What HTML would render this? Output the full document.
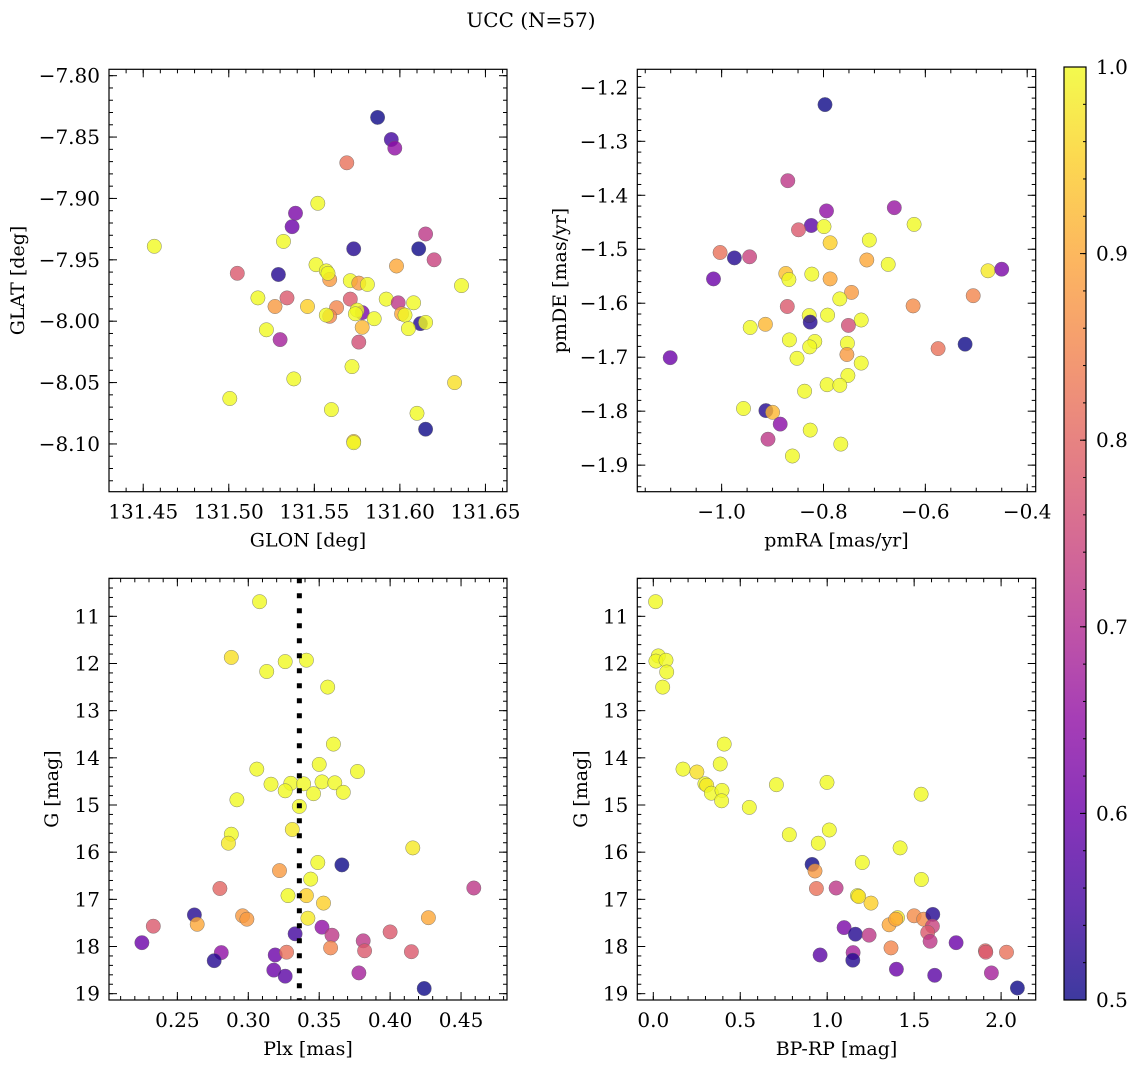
<!DOCTYPE html>
<html><head><meta charset="utf-8"><title>UCC (N=57)</title>
<style>
html,body{margin:0;padding:0;background:#fff;}
svg{display:block;font-family:"DejaVu Serif","Liberation Serif",serif;}
</style></head>
<body>
<svg id="fig" width="1136" height="1067" viewBox="0 0 1136 1067" xmlns="http://www.w3.org/2000/svg">
<text x="531" y="27" font-size="20" text-anchor="middle">UCC (N=57)</text>
</svg>
<script>
// ---- Panel 1: GLON vs GLAT ----
const tlLon=[131.4565,131.587,131.595,131.597,131.569,131.552,131.539,131.537,131.532,131.615,131.573,131.611,131.620,131.598,131.505,131.529,131.551,131.557,131.559,131.558,131.571,131.576,131.581,131.636,131.517,131.534,131.571,131.592,131.599,131.608,131.527,131.546,131.563,131.578,131.575,131.574,131.559,131.557,131.585,131.601,131.603,131.612,131.615,131.605,131.578,131.522,131.530,131.576,131.572,131.538,131.632,131.5006,131.560,131.610,131.615,131.573,131.573];
const tlLat=[-7.939,-7.834,-7.852,-7.859,-7.871,-7.904,-7.912,-7.923,-7.935,-7.929,-7.941,-7.941,-7.950,-7.955,-7.961,-7.962,-7.954,-7.959,-7.966,-7.961,-7.967,-7.969,-7.970,-7.971,-7.981,-7.981,-7.982,-7.982,-7.985,-7.985,-7.988,-7.988,-7.989,-7.993,-7.991,-7.994,-7.996,-7.995,-7.998,-7.994,-7.995,-8.002,-8.001,-8.006,-8.005,-8.007,-8.015,-8.017,-8.037,-8.047,-8.050,-8.063,-8.072,-8.075,-8.088,-8.098,-8.099];
const tlC=[1,0.5,0.55,0.65,0.82,1,0.62,0.6,1,0.72,0.52,0.5,0.74,0.9,0.78,0.52,1,1,0.88,1,1,0.88,1,1,1,0.78,0.78,1,0.72,1,0.88,0.95,0.85,0.62,1,1,0.85,1,1,0.9,1,0.52,1,1,0.92,1,0.68,0.76,1,1,0.97,1,1,1,0.5,0.95,1];
const tlXTicks=[131.45,131.50,131.55,131.60,131.65];
const tlYTicks=[-7.80,-7.85,-7.90,-7.95,-8.00,-8.05,-8.10];

// ---- Panel 2: pmRA vs pmDE ----
const trRA=[-0.797,-0.870,-0.794,-0.661,-0.622,-0.824,-0.849,-0.799,-0.710,-0.787,-1.003,-0.975,-0.945,-1.016,-0.874,-0.868,-0.823,-0.787,-0.715,-0.673,-0.477,-0.450,-0.506,-0.745,-0.768,-0.871,-0.624,-0.828,-0.826,-0.792,-0.726,-0.751,-0.944,-0.914,-0.867,-0.817,-0.827,-0.753,-0.754,-0.575,-0.522,-1.101,-0.852,-0.726,-0.752,-0.837,-0.793,-0.768,-0.957,-0.913,-0.900,-0.885,-0.826,-0.909,-0.766,-0.861];
const trDE=[-1.232,-1.373,-1.429,-1.423,-1.454,-1.456,-1.464,-1.458,-1.483,-1.488,-1.506,-1.516,-1.514,-1.555,-1.545,-1.556,-1.546,-1.555,-1.520,-1.528,-1.540,-1.537,-1.586,-1.580,-1.592,-1.606,-1.605,-1.623,-1.635,-1.622,-1.631,-1.641,-1.645,-1.639,-1.668,-1.671,-1.681,-1.674,-1.695,-1.684,-1.676,-1.701,-1.702,-1.711,-1.734,-1.763,-1.751,-1.752,-1.795,-1.799,-1.802,-1.824,-1.835,-1.852,-1.861,-1.883];
const trC=[0.5,0.72,0.65,0.66,1,0.58,0.78,1,1,0.95,0.82,0.52,0.74,0.6,0.93,1,1,0.9,0.9,1,0.98,0.62,0.85,0.88,1,0.78,0.86,1,0.52,1,1,0.76,1,0.92,1,1,1,1,0.88,0.82,0.5,0.6,1,1,1,1,1,1,1,0.52,0.92,0.64,1,0.72,1,1];
const trXTicks=[-1.0,-0.8,-0.6,-0.4];
const trYTicks=[-1.2,-1.3,-1.4,-1.5,-1.6,-1.7,-1.8,-1.9];

// ---- Panel 3: Plx vs G ----
const blPlx=[0.308,0.288,0.326,0.341,0.313,0.356,0.360,0.350,0.306,0.377,0.316,0.330,0.326,0.339,0.352,0.361,0.346,0.367,0.292,0.336,0.288,0.286,0.331,0.416,0.349,0.366,0.322,0.344,0.280,0.328,0.341,0.353,0.459,0.296,0.299,0.262,0.264,0.233,0.342,0.427,0.333,0.352,0.359,0.400,0.225,0.381,0.382,0.281,0.319,0.327,0.358,0.415,0.276,0.318,0.326,0.378,0.424];
const blG=[10.69,11.87,11.96,11.93,12.17,12.50,13.71,14.14,14.24,14.29,14.56,14.54,14.70,14.55,14.51,14.53,14.76,14.73,14.89,15.03,15.62,15.81,15.52,15.91,16.22,16.27,16.39,16.57,16.77,16.92,16.92,17.08,16.76,17.35,17.42,17.33,17.53,17.57,17.40,17.39,17.73,17.59,17.76,17.69,17.92,17.88,18.09,18.13,18.18,18.12,18.03,18.11,18.30,18.50,18.63,18.56,18.89];
const blC=[1,0.97,1,1,1,1,1,1,1,1,1,1,1,1,1,1,1,1,1,1,1,0.98,0.98,0.98,1,0.5,0.88,1,0.8,1,0.95,0.95,0.72,0.88,0.88,0.52,0.9,0.78,0.98,0.9,0.55,0.65,0.72,0.78,0.6,0.72,0.78,0.65,0.6,0.82,0.85,0.78,0.52,0.6,0.58,0.68,0.5];
const blXTicks=[0.25,0.30,0.35,0.40,0.45];
const blYTicks=[11,12,13,14,15,16,17,18,19];
const plxMarker=[0.336];

// ---- Panel 4: BP-RP vs G ----
const brCol=[0.013,0.029,0.015,0.073,0.077,0.054,0.408,0.385,0.171,0.251,0.297,0.307,0.334,0.395,0.393,0.552,0.708,0.999,1.540,0.782,1.012,0.949,1.419,1.202,0.913,0.930,1.542,0.938,1.051,1.174,1.181,1.252,1.356,1.404,1.394,1.500,1.555,1.607,1.605,1.578,1.592,1.097,1.162,1.241,1.367,1.741,1.910,1.912,2.031,0.959,1.149,1.147,1.398,1.618,1.944,2.094];
const brG=[10.69,11.84,11.95,11.93,12.18,12.50,13.71,14.13,14.24,14.30,14.55,14.58,14.75,14.69,14.91,15.05,14.57,14.52,14.77,15.63,15.53,15.81,15.91,16.22,16.26,16.40,16.58,16.77,16.76,16.92,16.94,17.08,17.54,17.39,17.42,17.35,17.42,17.32,17.57,17.70,17.89,17.60,17.74,17.76,18.03,17.92,18.09,18.12,18.12,18.18,18.13,18.29,18.48,18.61,18.56,18.88];
const brC=[1,1,1,1,1,1,1,1,1,0.97,1,0.98,1,1,1,1,1,1,1,1,1,1,1,1,0.5,0.88,1,0.82,0.72,1,0.97,0.95,0.9,0.98,0.9,0.86,0.86,0.52,0.74,0.78,0.72,0.62,0.52,0.72,0.85,0.6,0.8,0.78,0.82,0.58,0.68,0.52,0.6,0.58,0.68,0.5];
const brXTicks=[0.0,0.5,1.0,1.5,2.0];
const brYTicks=[11,12,13,14,15,16,17,18,19];

// ---- Colorbar ----
const cbTicks=[0.5,0.6,0.7,0.8,0.9,1.0];
const cbRange=[0.5,1.0];

const NS="http://www.w3.org/2000/svg";
const svg=document.getElementById('fig');
function mk(tag,attrs,parent){const e=document.createElementNS(NS,tag);for(const k in attrs)e.setAttribute(k,attrs[k]);(parent||svg).appendChild(e);return e;}

const plasma=[[13,8,135],[65,4,157],[106,0,168],[143,13,164],[177,42,144],[204,71,120],[225,100,98],[242,132,75],[252,166,54],[252,206,37],[240,249,33]];
function cmap(v){let t=(v-cbRange[0])/(cbRange[1]-cbRange[0]);t=Math.max(0,Math.min(1,t));const p=t*10,i=Math.min(9,Math.floor(p)),f=p-i;const a=plasma[i],b=plasma[i+1];return 'rgb('+a.map((x,k)=>Math.round(x+(b[k]-x)*f)).join(',')+')';}
function fmt(v,d){const s=Math.abs(v).toFixed(d);return (v<-1e-9?'−':'')+s;}

function panel(cfg){
  const {name,L,R,T,B,xd,yd,xt,yt,xminor,yminor,xdec,ydec,xs,ys,cs,xlabel,ylabel,ylabX}=cfg;
  const sx=v=>L+(v-xd[0])/(xd[1]-xd[0])*(R-L);
  const sy=v=>T+(v-yd[0])/(yd[1]-yd[0])*(B-T);
  const g=mk('g',{});
  
  
  const clipId=name+'-clip';
  const cp=mk('clipPath',{id:clipId},g);mk('rect',{x:L,y:T,width:R-L,height:B-T},cp);
  const pts=mk('g',{'clip-path':'url(#'+clipId+')'},g);
  
  
  for(let i=0;i<xs.length;i++){
    const c=mk('circle',{cx:sx(xs[i]).toFixed(1),cy:sy(ys[i]).toFixed(1),r:7.2,fill:cmap(cs[i]),'fill-opacity':0.8,stroke:'#666','stroke-width':0.5,'stroke-opacity':0.8},pts);
    
    
  }
  if(cfg.vline){
    const vl=mk('line',{x1:sx(cfg.vline[0]),x2:sx(cfg.vline[0]),y1:T,y2:B,stroke:'#000','stroke-width':5,'stroke-dasharray':'5 10'},g);
    
    
  }
  const tk=mk('g',{stroke:'#000','stroke-width':1},g);
  const lo=Math.min(xd[0],xd[1]),hi=Math.max(xd[0],xd[1]);
  for(let v=Math.ceil(lo/xminor-1e-6)*xminor;v<=hi+1e-9;v+=xminor){const x=sx(v);mk('line',{x1:x,x2:x,y1:B,y2:B-4},tk);mk('line',{x1:x,x2:x,y1:T,y2:T+4},tk);}
  const ylo=Math.min(yd[0],yd[1]),yhi=Math.max(yd[0],yd[1]);
  for(let v=Math.ceil(ylo/yminor-1e-6)*yminor;v<=yhi+1e-9;v+=yminor){const y=sy(v);mk('line',{x1:L,x2:L+4,y1:y,y2:y},tk);mk('line',{x1:R,x2:R-4,y1:y,y2:y},tk);}
  xt.forEach(v=>{const x=sx(v);mk('line',{x1:x,x2:x,y1:B,y2:B-8},tk);mk('line',{x1:x,x2:x,y1:T,y2:T+8},tk);
    const t=mk('text',{x:x,y:B+27,'font-size':20,'text-anchor':'middle'},g);t.textContent=fmt(v,xdec);
    
    });
  yt.forEach(v=>{const y=sy(v);mk('line',{x1:L,x2:L+8,y1:y,y2:y},tk);mk('line',{x1:R,x2:R-8,y1:y,y2:y},tk);
    const t=mk('text',{x:L-9,y:y+7,'font-size':20,'text-anchor':'end'},g);t.textContent=fmt(v,ydec);
    
    });
  const fr=mk('rect',{x:L,y:T,width:R-L,height:B-T,fill:'none',stroke:'#000','stroke-width':1.2},g);
  
  
  const xl=mk('text',{x:(L+R)/2,y:B+55,'font-size':19,'text-anchor':'middle'},g);xl.textContent=xlabel;
  
  
  const yl=mk('text',{x:ylabX,y:(T+B)/2,'font-size':19,'text-anchor':'middle',transform:'rotate(-90 '+ylabX+' '+((T+B)/2)+')'},g);yl.textContent=ylabel;
  
  
}

panel({name:'glon-glat',L:109,R:507,T:69.3,B:491.7,xd:[131.430,131.6626],yd:[-7.7948,-8.1389],xt:tlXTicks,yt:tlYTicks,xminor:0.01,yminor:0.01,xdec:2,ydec:2,xs:tlLon,ys:tlLat,cs:tlC,xlabel:'GLON [deg]',ylabel:'GLAT [deg]',ylabX:24});
panel({name:'pmra-pmde',L:637.3,R:1035.7,T:69.3,B:491.7,xd:[-1.1656,-0.3833],yd:[-1.1666,-1.9492],xt:trXTicks,yt:trYTicks,xminor:0.05,yminor:0.02,xdec:1,ydec:1,xs:trRA,ys:trDE,cs:trC,xlabel:'pmRA [mas/yr]',ylabel:'pmDE [mas/yr]',ylabX:566});
panel({name:'plx-g',L:109,R:507,T:578.3,B:1000,xd:[0.2018,0.4824],yd:[10.194,19.134],xt:blXTicks,yt:blYTicks,xminor:0.01,yminor:0.2,xdec:2,ydec:0,xs:blPlx,ys:blG,cs:blC,xlabel:'Plx [mas]',ylabel:'G [mag]',ylabX:58,vline:plxMarker});
panel({name:'bprp-g',L:637.3,R:1035.7,T:578.3,B:1000,xd:[-0.092,2.199],yd:[10.194,19.134],xt:brXTicks,yt:brYTicks,xminor:0.1,yminor:0.2,xdec:1,ydec:0,xs:brCol,ys:brG,cs:brC,xlabel:'BP-RP [mag]',ylabel:'G [mag]',ylabX:587});

(function(){
  const L=1064,R=1086,T=67,B=1000;
  const cy=v=>B-(v-cbRange[0])/(cbRange[1]-cbRange[0])*(B-T);
  const g=mk('g',{});
  
  
  const defs=mk('defs',{},g);
  const lg=mk('linearGradient',{id:'cbgrad',x1:0,y1:1,x2:0,y2:0},defs);
  for(let i=0;i<=20;i++){const v=cbRange[0]+(cbRange[1]-cbRange[0])*i/20;mk('stop',{offset:(i/20),'stop-color':cmap(v)},lg);}
  mk('rect',{x:L,y:T,width:R-L,height:B-T,fill:'url(#cbgrad)','fill-opacity':0.8},g);
  for(let v=cbRange[0];v<=cbRange[1]+1e-9;v+=0.02){const y=cy(v);mk('line',{x1:R,x2:R-3,y1:y,y2:y,stroke:'#000'},g);}
  cbTicks.forEach(v=>{const y=cy(v);mk('line',{x1:R,x2:R-6,y1:y,y2:y,stroke:'#000'},g);
    const t=mk('text',{x:R+10,y:y+7,'font-size':20},g);t.textContent=v.toFixed(1);
    
    });
  mk('rect',{x:L,y:T,width:R-L,height:B-T,fill:'none',stroke:'#000','stroke-width':1.2},g);
})();
</script>
</body></html>
